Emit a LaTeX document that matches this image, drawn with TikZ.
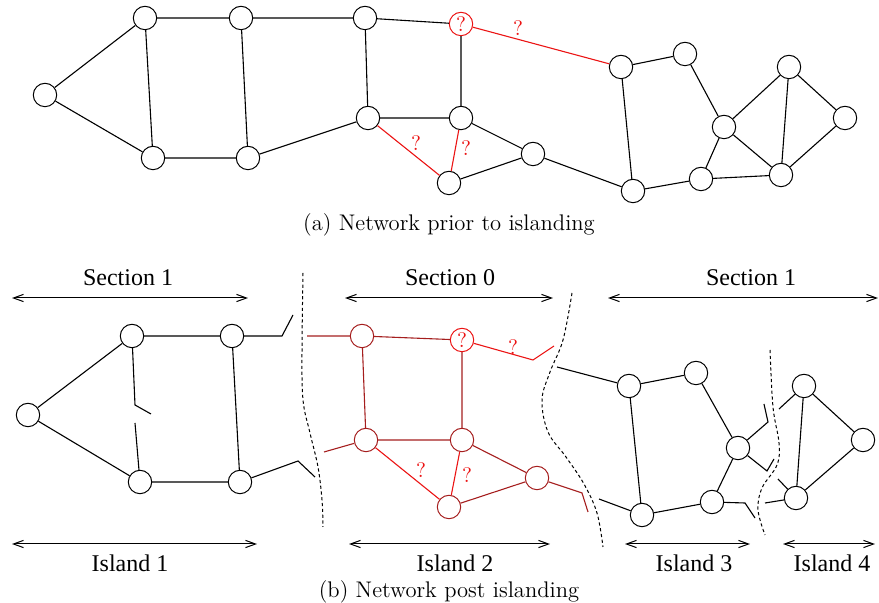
\documentclass[tikz,border=0pt]{standalone}
\usepackage{fontspec}
\newfontfamily\labelfont{Liberation Serif}
\usetikzlibrary{arrows.meta}
\definecolor{islandred}{RGB}{165,30,30}
\definecolor{openred}{RGB}{235,20,20}
\begin{document}
\begin{tikzpicture}[x=0.5pt,y=-0.5pt,
  bus/.style={circle,draw,line width=0.5pt,minimum size=11.7pt,inner sep=0pt},
  qbus/.style={bus,draw=openred,text=openred,font=\fontsize{10.5}{12}\selectfont},
  rbus/.style={bus,draw=islandred},
  line/.style={line width=0.55pt},
  rline/.style={line,draw=islandred},
  qline/.style={line,draw=openred},
  qmark/.style={text=openred,font=\fontsize{10.5}{12}\selectfont,inner sep=0pt},
  cut/.style={line width=0.5pt,dash pattern=on 1.6pt off 1.3pt},
  span/.style={line width=0.5pt,{Straight Barb[length=5pt,width=3.6pt]}-{Straight Barb[length=5pt,width=3.6pt]}},
  tag/.style={font=\labelfont\fontsize{12}{14}\selectfont,inner sep=0pt},
  caption/.style={font=\fontsize{11.3}{13}\selectfont,inner sep=0pt}]
\useasboundingbox (0,0) rectangle (879,603);

% ---------------- (a) full network ----------------
\node[bus] (A) at (45,95) {};
\node[bus] (B) at (145,18) {};
\node[bus] (C) at (241,18) {};
\node[bus] (D) at (365,18) {};
\node[bus] (E) at (153,158) {};
\node[bus] (F) at (248,158) {};
\node[bus] (G) at (368,118) {};
\node[qbus] (H) at (461,24) {?};
\node[bus] (I) at (461,118) {};
\node[bus] (J) at (449,183) {};
\node[bus] (K) at (533,154) {};
\node[bus] (L) at (621,67) {};
\node[bus] (M) at (685,54) {};
\node[bus] (N) at (633,191) {};
\node[bus] (O) at (724,127) {};
\node[bus] (P) at (701,179) {};
\node[bus] (Q) at (789,67) {};
\node[bus] (R) at (845,118) {};
\node[bus] (S) at (781,175) {};

\draw[line] (A) -- (B) (A) -- (E) (B) -- (C) (B) -- (E) (C) -- (D) (C) -- (F)
  (E) -- (F) (F) -- (G) (D) -- (G) (D) -- (H) (H) -- (I) (G) -- (I)
  (I) -- (K) (J) -- (K) (K) -- (N) (L) -- (M) (L) -- (N) (M) -- (O)
  (N) -- (P) (P) -- (O) (P) -- (S) (O) -- (Q) (O) -- (S) (Q) -- (S)
  (Q) -- (R) (R) -- (S);
\draw[qline] (H) -- (L) (G) -- (J) (I) -- (J);
\node[qmark] (qa1) at (518,28) {?};
\node[qmark] (qa2) at (416,143) {?};
\node[qmark] (qa3) at (466,148) {?};

\node[caption] (capa) at (449,225) {(a) Network prior to islanding};

% ---------------- (b) islanded network ----------------
% island 1
\node[bus] (a1) at (28,415) {};
\node[bus] (b1) at (132,336) {};
\node[bus] (c1) at (232,336) {};
\node[bus] (e1) at (140,482) {};
\node[bus] (f1) at (240,482) {};
\coordinate (sw1) at (135,405);
\coordinate (sw1b) at (151,414);
\coordinate (sw1c) at (135,423);
\coordinate (c1k) at (282,336);
\coordinate (c1t) at (293,315);
\coordinate (f1k) at (298,461);
\coordinate (f1t) at (315,477);
\draw[line] (a1) -- (b1) (a1) -- (e1) (b1) -- (c1) (e1) -- (f1) (c1) -- (f1)
  (b1) -- (sw1) -- (sw1b) (sw1c) -- (e1)
  (c1) -- (c1k) -- (c1t) (f1) -- (f1k) -- (f1t);

% island 2
\node[rbus] (g) at (362,336) {};
\node[qbus] (h) at (462,340) {?};
\node[rbus] (gg) at (366,440) {};
\node[rbus] (i) at (462,440) {};
\node[rbus] (j) at (449,507) {};
\node[rbus] (k) at (537,478) {};
\coordinate (gin) at (307,336);
\coordinate (ggin) at (324,452);
\coordinate (hk) at (533,360);
\coordinate (ht) at (554,346);
\coordinate (kk) at (582,493);
\coordinate (kt) at (588,512);
\draw[rline] (gin) -- (g) (g) -- (h) (g) -- (gg) (h) -- (i) (gg) -- (i)
  (ggin) -- (gg) (i) -- (k) (j) -- (k) (k) -- (kk) -- (kt);
\draw[qline] (h) -- (hk) -- (ht) (gg) -- (j) (i) -- (j);
\node[qmark] (qb1) at (513,347) {?};
\node[qmark] (qb2) at (421,470) {?};
\node[qmark] (qb3) at (467,475) {?};

% island 3
\node[bus] (m1) at (629,386) {};
\node[bus] (m2) at (696,373) {};
\node[bus] (m3) at (738,448) {};
\node[bus] (m4) at (642,515) {};
\node[bus] (m5) at (712,502) {};
\coordinate (m1in) at (557,367);
\coordinate (m4in) at (599,499);
\coordinate (m3ak) at (768,422);
\coordinate (m3at) at (764,404);
\coordinate (m3bk) at (767,471);
\coordinate (m3bt) at (774,459);
\coordinate (m5k) at (745,503);
\coordinate (m5t) at (755,518);
\draw[line] (m1in) -- (m1) (m1) -- (m2) (m1) -- (m4) (m2) -- (m3) (m3) -- (m5)
  (m4) -- (m5) (m4in) -- (m4)
  (m3) -- (m3ak) -- (m3at) (m3) -- (m3bk) -- (m3bt) (m5) -- (m5k) -- (m5t);

% island 4
\node[bus] (n1) at (804,386) {};
\node[bus] (n2) at (863,440) {};
\node[bus] (n3) at (796,498) {};
\coordinate (n1in) at (779,409);
\coordinate (n3ina) at (778,479);
\coordinate (n3inb) at (765,503);
\draw[line] (n1) -- (n2) (n1) -- (n3) (n2) -- (n3)
  (n1in) -- (n1) (n3ina) -- (n3) (n3inb) -- (n3);

% section boundaries
\draw[cut] plot[smooth,tension=0.6] coordinates {(303,273) (302,350) (303,400) (310,433) (318,467) (322,500) (323,527)};
\draw[cut] plot[smooth,tension=0.6] coordinates {(572,293) (563,340) (550,372) (542,400) (548,432) (566,457) (584,484) (597,513) (603,547)};
\draw[cut] plot[smooth,tension=0.6] coordinates {(770,350) (773,407) (779,443) (777,465) (762,488) (758,510) (765,535)};

% spans
\coordinate (s1a) at (12,298);  \coordinate (s1b) at (248,298);
\coordinate (s0a) at (345,298); \coordinate (s0b) at (553,298);
\coordinate (s2a) at (608,298); \coordinate (s2b) at (878,298);
\coordinate (i1a) at (12,544);  \coordinate (i1b) at (257,544);
\coordinate (i2a) at (349,544); \coordinate (i2b) at (550,544);
\coordinate (i3a) at (625,544); \coordinate (i3b) at (750,544);
\coordinate (i4a) at (783,544); \coordinate (i4b) at (875,544);
\draw[span] (s1a) -- (s1b);
\draw[span] (s0a) -- (s0b);
\draw[span] (s2a) -- (s2b);
\draw[span] (i1a) -- (i1b);
\draw[span] (i2a) -- (i2b);
\draw[span] (i3a) -- (i3b);
\draw[span] (i4a) -- (i4b);
\node[tag] (t1) at (128,278) {Section 1};
\node[tag] (t0) at (450,278) {Section 0};
\node[tag] (t2) at (751,278) {Section 1};
\node[tag] (u1) at (130,563) {Island 1};
\node[tag] (u2) at (455,563) {Island 2};
\node[tag] (u3) at (694,563) {Island 3};
\node[tag] (u4) at (832,563) {Island 4};

\node[caption] (capb) at (449,592) {(b) Network post islanding};
\end{tikzpicture}
\end{document}
